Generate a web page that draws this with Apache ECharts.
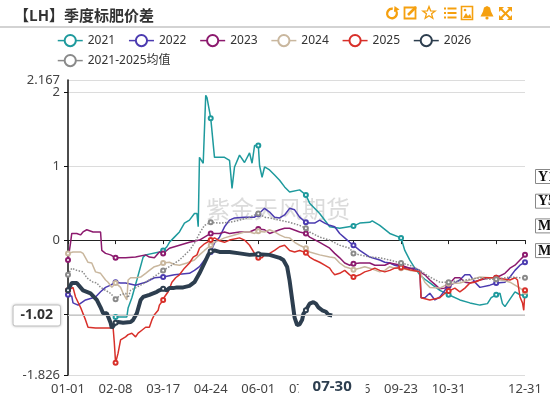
<!DOCTYPE html>
<html><head><meta charset="utf-8">
<script src="https://cdn.jsdelivr.net/npm/echarts@6/dist/echarts.min.js"></script>
<style>html,body{margin:0;padding:0;background:#fff}#c{width:550px;height:400px}</style>
</head><body><div id="c"></div>
<script>
const titleText = '【LH】季度标肥价差';
const watermarkText = '紫金天风期货';
const seriesNames = ['2021','2022','2023','2024','2025','2026','2021-2025均值'];
const seriesColors = ['#1e9a9d','#4b3bb0','#8c1a6e','#c9b79e','#d8302a','#2d3e4f','#8a8a8a'];
const sideButtons = ['Y1','Y5','M1','M5'];
// day-of-year categories (leap-year calendar, as in the reference)
const monthDays = [31,29,31,30,31,30,31,31,30,31,30,31];
const categories = [];
monthDays.forEach((n, m) => { for (let d = 1; d <= n; d++) categories.push(String(m+1).padStart(2,'0') + '-' + String(d).padStart(2,'0')); });
const hiddenLabel = '12-08';
const yMin = -1.826, yMax = 2.167;
const pointerDayIndex = 211;   // 07-30
const pointerValue = -1.02;

// [dayIndex, value]
const s2021 = [[38,-1.04],[47,-1.04],[48,-0.92],[51,-0.78],[55,-0.54],[60,-0.23],[62,-0.20],[73,-0.16],[76,-0.14],[79,-0.09],[81,-0.03],[85,0.04],[89,0.11],[93,0.23],[97,0.27],[101,0.36],[103,0.36],[104,0.18],[105,1.12],[108,1.04],[110,1.96],[111,1.93],[114,1.65],[117,1.12],[125,1.12],[129,1.08],[131,0.70],[133,0.99],[137,1.15],[141,1.05],[145,1.18],[147,1.04],[149,1.28],[152,1.28],[153,1.01],[155,0.85],[157,0.99],[161,0.95],[165,0.88],[169,0.81],[173,0.72],[177,0.65],[185,0.68],[190,0.61],[193,0.50],[201,0.36],[209,0.18],[217,0.16],[228,0.19],[233,0.23],[241,0.24],[243,0.26],[249,0.20],[257,0.09],[266,0.03],[269,-0.14],[273,-0.27],[277,-0.38],[281,-0.47],[285,-0.53],[289,-0.58],[297,-0.68],[304,-0.74],[313,-0.81],[321,-0.85],[329,-0.88],[335,-0.86],[338,-0.78],[342,-0.74],[345,-0.72],[347,-0.86],[349,-0.90],[353,-0.80],[357,-0.70],[361,-0.74],[365,-0.75]];
const s2022 = [[0,-0.74],[3,-0.76],[4,-0.85],[8,-0.88],[14,-0.81],[22,-0.77],[26,-0.70],[30,-0.64],[34,-0.61],[38,-0.57],[42,-0.58],[46,-0.58],[54,-0.61],[62,-0.57],[69,-0.51],[76,-0.50],[85,-0.47],[97,-0.45],[101,-0.41],[105,-0.36],[109,-0.27],[114,-0.16],[117,-0.04],[121,0.04],[125,0.18],[129,0.27],[133,0.30],[141,0.31],[149,0.31],[152,0.35],[157,0.43],[161,0.38],[165,0.31],[169,0.30],[173,0.34],[177,0.43],[181,0.41],[185,0.31],[190,0.24],[193,0.23],[197,0.23],[201,0.27],[205,0.23],[209,0.20],[213,0.18],[217,0.09],[221,0.03],[225,-0.03],[228,-0.07],[233,-0.14],[241,-0.23],[249,-0.27],[253,-0.30],[257,-0.31],[261,-0.34],[266,-0.36],[273,-0.38],[277,-0.38],[281,-0.41],[282,-0.78],[285,-0.78],[289,-0.72],[293,-0.81],[297,-0.77],[301,-0.68],[304,-0.62],[309,-0.58],[313,-0.54],[317,-0.47],[321,-0.47],[325,-0.57],[329,-0.64],[337,-0.61],[342,-0.58],[349,-0.57],[353,-0.50],[357,-0.41],[361,-0.34],[365,-0.30]];
const s2023 = [[0,-0.27],[2,-0.04],[3,0.09],[7,0.09],[10,0.07],[12,0.11],[15,0.14],[20,0.11],[26,0.11],[27,-0.14],[30,-0.18],[34,-0.20],[38,-0.24],[46,-0.24],[54,-0.23],[62,-0.20],[65,-0.23],[69,-0.24],[73,-0.16],[76,-0.18],[81,-0.11],[89,-0.07],[97,-0.03],[105,0],[109,0.04],[114,0.09],[121,0.09],[125,0.11],[129,0.09],[137,0.11],[145,0.11],[149,0.14],[152,0.15],[157,0.14],[161,0.09],[169,0.14],[173,0.16],[177,0.16],[185,0.11],[190,0.09],[193,0.04],[201,-0.03],[209,-0.11],[213,-0.18],[217,-0.24],[221,-0.31],[225,-0.34],[228,-0.32],[233,-0.31],[241,-0.31],[245,-0.34],[253,-0.34],[257,-0.31],[266,-0.34],[273,-0.38],[281,-0.43],[285,-0.47],[289,-0.54],[293,-0.60],[297,-0.66],[301,-0.65],[304,-0.60],[309,-0.51],[313,-0.51],[317,-0.57],[321,-0.58],[329,-0.54],[337,-0.51],[342,-0.51],[349,-0.45],[353,-0.38],[357,-0.34],[361,-0.27],[365,-0.20]];
const s2024 = [[0,-0.18],[4,-0.16],[10,-0.16],[12,-0.18],[16,-0.30],[19,-0.31],[22,-0.43],[26,-0.45],[30,-0.54],[32,-0.57],[35,-0.64],[38,-0.58],[42,-0.64],[44,-0.72],[47,-0.81],[48,-0.54],[50,-0.51],[54,-0.51],[58,-0.50],[62,-0.45],[65,-0.41],[69,-0.36],[73,-0.34],[76,-0.31],[81,-0.30],[85,-0.33],[89,-0.34],[95,-0.31],[101,-0.27],[105,-0.20],[109,-0.14],[114,-0.07],[117,-0.03],[121,0],[125,0.03],[133,0.07],[137,0.09],[141,0.11],[145,0.11],[149,0.09],[152,0.12],[157,0.11],[161,0.14],[165,0.11],[169,0.07],[173,0.04],[177,0.03],[181,-0.03],[185,-0.07],[190,-0.11],[193,-0.16],[201,-0.20],[209,-0.23],[213,-0.24],[217,-0.31],[221,-0.36],[225,-0.38],[228,-0.40],[233,-0.38],[237,-0.36],[241,-0.38],[249,-0.43],[253,-0.41],[257,-0.36],[261,-0.38],[266,-0.38],[273,-0.41],[281,-0.43],[285,-0.57],[289,-0.64],[297,-0.65],[304,-0.59],[313,-0.58],[321,-0.54],[329,-0.50],[337,-0.51],[342,-0.53],[349,-0.55],[353,-0.57],[357,-0.61],[361,-0.65],[365,-0.70]];
const s2025 = [[0,-0.68],[4,-0.64],[6,-0.77],[10,-0.91],[14,-1.08],[16,-1.18],[22,-1.19],[34,-1.19],[36,-1.18],[37,-1.39],[38,-1.66],[40,-1.53],[42,-1.35],[46,-1.31],[48,-1.28],[51,-1.26],[54,-1.31],[56,-1.26],[59,-1.22],[62,-1.18],[65,-1.18],[67,-1.08],[69,-1.01],[72,-0.95],[73,-0.88],[76,-0.81],[77,-0.77],[80,-0.70],[81,-0.68],[83,-0.57],[86,-0.51],[89,-0.47],[93,-0.38],[97,-0.31],[100,-0.23],[103,-0.20],[105,-0.11],[109,-0.05],[114,0],[117,0.03],[121,-0.01],[125,-0.03],[129,0],[137,0.03],[141,0],[145,-0.07],[149,-0.18],[152,-0.24],[155,-0.24],[157,-0.20],[161,-0.18],[165,-0.14],[169,-0.09],[173,-0.07],[177,-0.14],[181,-0.16],[185,-0.14],[190,-0.17],[193,-0.23],[197,-0.27],[201,-0.30],[205,-0.34],[209,-0.38],[211,-0.43],[213,-0.47],[217,-0.45],[221,-0.41],[225,-0.47],[228,-0.50],[233,-0.47],[237,-0.43],[241,-0.41],[245,-0.38],[249,-0.41],[253,-0.43],[257,-0.41],[261,-0.38],[266,-0.37],[273,-0.40],[281,-0.43],[282,-0.78],[289,-0.81],[297,-0.78],[301,-0.72],[304,-0.69],[309,-0.65],[313,-0.70],[317,-0.65],[321,-0.58],[325,-0.57],[329,-0.54],[333,-0.51],[337,-0.51],[342,-0.51],[353,-0.54],[357,-0.51],[359,-0.54],[361,-0.77],[363,-0.85],[364,-0.95],[365,-0.68]];
const s2026 = [[0,-0.68],[3,-0.58],[7,-0.58],[12,-0.68],[18,-0.72],[23,-0.81],[26,-0.91],[28,-0.99],[31,-0.99],[34,-1.12],[35,-1.19],[38,-1.12],[40,-1.11],[44,-1.12],[50,-1.11],[52,-1.08],[55,-0.99],[58,-0.81],[60,-0.77],[65,-0.74],[68,-0.72],[71,-0.70],[73,-0.68],[76,-0.66],[79,-0.68],[81,-0.65],[84,-0.65],[87,-0.64],[92,-0.64],[97,-0.62],[101,-0.57],[105,-0.45],[109,-0.31],[112,-0.20],[114,-0.15],[117,-0.14],[121,-0.16],[129,-0.16],[137,-0.18],[145,-0.20],[152,-0.19],[161,-0.20],[169,-0.24],[172,-0.27],[175,-0.36],[177,-0.55],[179,-0.80],[181,-1.05],[183,-1.15],[185,-1.14],[187,-1.08],[188,-1.00],[190,-0.95],[193,-0.86],[196,-0.84],[198,-0.86],[200,-0.91],[203,-0.95],[206,-0.97],[208,-1.01],[209,-0.99],[211,-1.02]];
const sAvg = [[0,-0.47],[3,-0.38],[7,-0.41],[12,-0.43],[15,-0.51],[20,-0.57],[23,-0.58],[26,-0.64],[30,-0.68],[34,-0.72],[38,-0.80],[42,-0.74],[46,-0.72],[48,-0.78],[50,-0.68],[58,-0.61],[65,-0.54],[76,-0.41],[81,-0.36],[89,-0.27],[97,-0.14],[101,-0.04],[105,0.09],[109,0.20],[114,0.24],[121,0.23],[129,0.24],[137,0.27],[145,0.31],[152,0.36],[157,0.31],[161,0.30],[169,0.27],[177,0.24],[185,0.20],[190,0.16],[193,0.11],[201,0.04],[209,0],[217,-0.07],[225,-0.11],[228,-0.18],[233,-0.20],[241,-0.23],[249,-0.24],[257,-0.27],[266,-0.31],[273,-0.34],[281,-0.41],[289,-0.50],[297,-0.57],[304,-0.57],[313,-0.55],[321,-0.53],[329,-0.51],[337,-0.53],[342,-0.53],[353,-0.50],[361,-0.51],[365,-0.51]];
const seriesData = [s2021, s2022, s2023, s2024, s2025, s2026, sAvg];

const FONT = '"Noto Sans","Noto Sans CJK SC",sans-serif';
const ORANGE = '#f5a00f';
const labelInterval = (i) => i % 38 === 0 || i === categories.length - 1;

const series = seriesNames.map((name, i) => ({
  name, type: 'line', data: seriesData[i],
  symbol: 'emptyCircle', symbolSize: 4, showAllSymbol: 'auto',
  itemStyle: { color: seriesColors[i], borderWidth: 1 },
  lineStyle: { color: seriesColors[i], width: i === 5 ? 4 : 1.5, type: i === 6 ? 'dotted' : 'solid' },
  emphasis: { disabled: true }, z: i === 5 ? 3 : 2
}));

const icons = [
  { type: 'arc', shape: { cx: 392, cy: 13.5, r: 4.8, startAngle: -Math.PI * 0.3, endAngle: Math.PI * 1.55, clockwise: true }, style: { stroke: ORANGE, lineWidth: 2.4, fill: null } },
  { type: 'polygon', shape: { points: [[394.5,6],[399.5,9.5],[394,12]] }, style: { fill: ORANGE } },
  { type: 'rect', shape: { x: 404.5, y: 7.5, width: 11, height: 11 }, style: { stroke: ORANGE, lineWidth: 1.8, fill: null } },
  { type: 'line', shape: { x1: 408, y1: 15, x2: 416, y2: 7 }, style: { stroke: ORANGE, lineWidth: 2.5 } },
  { type: 'polygon', shape: { points: [[429,6.5],[430.6,10.8],[435.2,11],[431.6,13.8],[432.8,18.3],[429,15.7],[425.2,18.3],[426.4,13.8],[422.8,11],[427.4,10.8]] }, style: { stroke: ORANGE, lineWidth: 1.3, fill: null } },
  { type: 'rect', shape: { x: 444, y: 7.5, width: 2, height: 2 }, style: { fill: ORANGE } },
  { type: 'rect', shape: { x: 447.5, y: 7.5, width: 9, height: 2 }, style: { fill: ORANGE } },
  { type: 'rect', shape: { x: 444, y: 12, width: 2, height: 2 }, style: { fill: ORANGE } },
  { type: 'rect', shape: { x: 447.5, y: 12, width: 9, height: 2 }, style: { fill: ORANGE } },
  { type: 'rect', shape: { x: 444, y: 16.5, width: 2, height: 2 }, style: { fill: ORANGE } },
  { type: 'rect', shape: { x: 447.5, y: 16.5, width: 9, height: 2 }, style: { fill: ORANGE } },
  { type: 'rect', shape: { x: 461.5, y: 6.5, width: 11, height: 13 }, style: { stroke: ORANGE, lineWidth: 1.6, fill: '#fff' } },
  { type: 'polygon', shape: { points: [[463,18],[466,13],[468,16],[470,14],[471.5,18]] }, style: { fill: ORANGE } },
  { type: 'circle', shape: { cx: 465, cy: 10, r: 1.3 }, style: { fill: ORANGE } },
  { type: 'polygon', shape: { points: [[487,6],[490,7.5],[491,11.5],[493.5,16.5],[480.5,16.5],[483,11.5],[484,7.5]] }, style: { fill: ORANGE } },
  { type: 'circle', shape: { cx: 487, cy: 18, r: 1.6 }, style: { fill: ORANGE } },
  { type: 'line', shape: { x1: 500.5, y1: 8.5, x2: 510.5, y2: 18.5 }, style: { stroke: ORANGE, lineWidth: 2 } },
  { type: 'line', shape: { x1: 510.5, y1: 8.5, x2: 500.5, y2: 18.5 }, style: { stroke: ORANGE, lineWidth: 2 } },
  { type: 'polygon', shape: { points: [[499,7],[504,7],[499,12]] }, style: { fill: ORANGE } },
  { type: 'polygon', shape: { points: [[512,7],[507,7],[512,12]] }, style: { fill: ORANGE } },
  { type: 'polygon', shape: { points: [[499,20],[504,20],[499,15]] }, style: { fill: ORANGE } },
  { type: 'polygon', shape: { points: [[512,20],[507,20],[512,15]] }, style: { fill: ORANGE } }
];

const sideEls = [];
sideButtons.forEach((t, i) => {
  const y = 169 + i * 24.7;
  sideEls.push({ type: 'rect', shape: { x: 535.5, y: y + 0.5, width: 30, height: 14 }, style: { stroke: '#888', lineWidth: 1, fill: '#fff' } });
  sideEls.push({ type: 'text', x: 538, y: y + 8, style: { text: t, font: 'bold 14px "Liberation Serif", serif', fill: '#111', textVerticalAlign: 'middle' } });
});

const legendCommon = { left: 52, itemWidth: 25, itemHeight: 14, itemGap: 13,
  lineStyle: { width: 1.5, type: 'solid' }, itemStyle: { borderWidth: 1.2 },
  textStyle: { fontSize: 12, color: '#333', fontFamily: FONT } };

const yLabelStyle = { fontSize: 13, color: '#444', fontFamily: FONT, margin: 8 };

const option = {
  animation: false,
  backgroundColor: '#fff',
  title: { text: titleText, left: 9, top: 3, textStyle: { fontSize: 15, fontWeight: 'bold', color: '#333', fontFamily: '"Noto Sans CJK SC",sans-serif' } },
  legend: [
    Object.assign({ data: seriesNames.slice(0, 6), top: 29 }, legendCommon),
    Object.assign({ data: seriesNames.slice(6), top: 49 }, legendCommon)
  ],
  grid: { left: 68, right: 25, top: 80, bottom: 25, containLabel: false },
  axisPointer: { triggerOn: 'none' },
  xAxis: [
    { type: 'category', data: categories, boundaryGap: false, position: 'bottom',
      axisLine: { show: false, onZero: false }, axisTick: { show: false },
      axisLabel: { interval: labelInterval, fontSize: 13, color: '#444', fontFamily: FONT, margin: 8,
        formatter: (v) => v === hiddenLabel ? '' : v },
      splitLine: { show: false },
      axisPointer: { show: true, type: 'line', value: pointerDayIndex, status: 'show', snap: false, triggerTooltip: false,
        lineStyle: { opacity: 0 },
        label: { show: true, fontWeight: 'bold', fontSize: 15, color: '#2d3e4f', fontFamily: FONT, backgroundColor: '#fff', padding: [2, 14], margin: 2 } } },
    { type: 'category', data: categories, boundaryGap: false, position: 'bottom',
      axisLine: { show: true, onZero: true, lineStyle: { color: '#222', width: 1.2 } },
      axisTick: { show: true, interval: labelInterval, length: 4, lineStyle: { color: '#222' } },
      axisLabel: { show: false }, splitLine: { show: false }, axisPointer: { show: false } }
  ],
  yAxis: [
    { type: 'value', min: yMin, max: yMax, position: 'left',
      axisLine: { show: true, lineStyle: { color: '#111', width: 1.5 } },
      axisTick: { show: true, length: 4, lineStyle: { color: '#111' } },
      axisLabel: Object.assign({ showMinLabel: true, showMaxLabel: false }, yLabelStyle),
      splitLine: { show: true, lineStyle: { color: '#dcdcdc', width: 1 } },
      axisPointer: { show: true, value: pointerValue, status: 'show', snap: false, triggerTooltip: false,
        lineStyle: { color: '#c8c8c8', width: 1, type: 'solid' },
        label: { show: true, formatter: (p) => Number(p.value).toFixed(2), fontWeight: 'bold', fontSize: 14, color: '#333', fontFamily: FONT,
          backgroundColor: '#fff', borderColor: '#d0d0d0', borderWidth: 1, borderRadius: 2, shadowBlur: 3, shadowColor: 'rgba(0,0,0,0.2)', padding: [3, 7], margin: 8 } } },
    { type: 'value', min: yMin, max: yMax, position: 'left', offset: 0,
      axisLine: { show: false }, axisTick: { show: false }, splitLine: { show: false }, axisPointer: { show: false },
      axisLabel: Object.assign({ showMinLabel: false, showMaxLabel: true,
        formatter: (v) => Math.abs(v - yMax) < 1e-9 ? String(yMax) : '' }, yLabelStyle) }
  ],
  graphic: [
    { type: 'line', shape: { x1: 0, y1: 27, x2: 550, y2: 27 }, style: { stroke: '#c4c4c4', lineWidth: 1.5 }, silent: true },
    { type: 'text', x: 278, y: 209, z: 0, silent: true,
      style: { text: watermarkText, font: '24px "Noto Sans CJK SC", sans-serif', fill: 'rgba(190,190,190,0.55)', textAlign: 'center', textVerticalAlign: 'middle' } },
    ...icons, ...sideEls
  ],
  series
};
const chart = echarts.init(document.getElementById('c'));
chart.setOption(option);
</script></body></html>
